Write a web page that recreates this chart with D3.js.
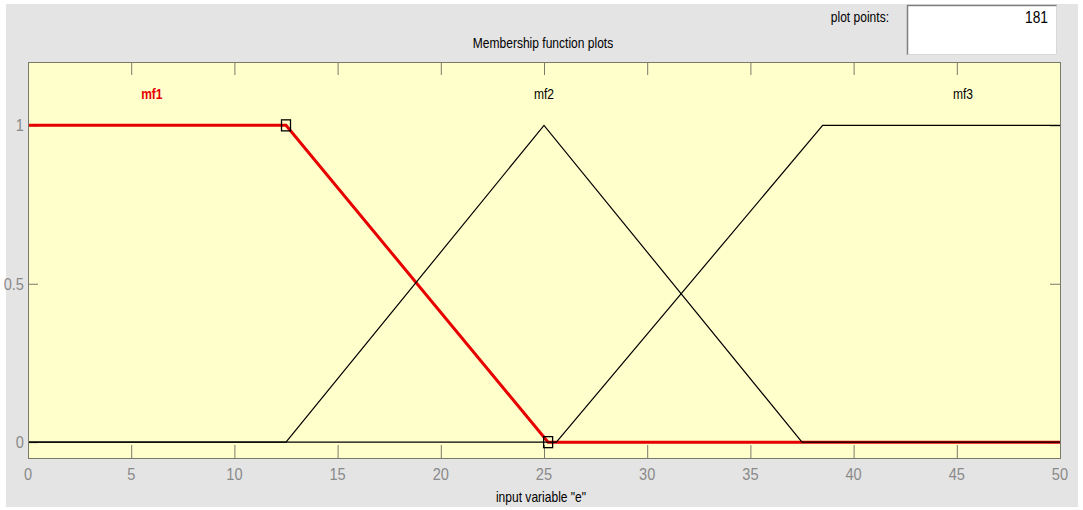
<!DOCTYPE html>
<html>
<head>
<meta charset="utf-8">
<script src="https://cdn.jsdelivr.net/npm/d3@7"></script>
<style>
  html, body { margin: 0; padding: 0; background: #ffffff; }
  svg { display: block; }
  text { font-family: "Liberation Sans", Arial, sans-serif; }
</style>
</head>
<body>
<svg id="chart" width="1083" height="510"></svg>
<script>
// Input variable "e", universe of discourse [0, 50]
const xTicks = [0, 5, 10, 15, 20, 25, 30, 35, 40, 45, 50];
const yTicks = [0, 0.5, 1];
const yTickLabels = ["0", "0.5", "1"];

// Membership functions (breakpoints and degrees)
const mfNames = ["mf1", "mf2", "mf3"];
const mf1X = [0, 12.5, 25.2, 50];
const mf1Y = [1, 1, 0, 0];
const mf2X = [0, 12.5, 25, 37.5, 50];
const mf2Y = [0, 0, 1, 0, 0];
const mf3X = [0, 25.6, 38.5, 50];
const mf3Y = [0, 0, 1, 1];

const plotPoints = 181;
const chartTitle = "Membership function plots";
const xLabel = 'input variable "e"';

// ---- layout ----
const plot = { left: 28, right: 1060, top: 62, bottom: 458 };
const labelAt = [6.0, 25, 45.3];   // x positions of the mf name labels
const labelY = 1.1;
const condense = 0.86;             // horizontal squeeze for the narrow UI font

const svg = d3.select("#chart");

// condensed text helper: positioned by transform so the squeeze keeps the anchor
function label(sel, px, py, anchor, size) {
  return sel
    .attr("transform", (d, i) => {
      const X = typeof px === "function" ? px(d, i) : px;
      const Y = typeof py === "function" ? py(d, i) : py;
      return `translate(${X},${Y}) scale(${condense},1)`;
    })
    .attr("text-anchor", anchor)
    .attr("dominant-baseline", "central")
    .attr("font-size", size);
}

// window panel
svg.append("rect")
  .attr("x", 6).attr("y", 4).attr("width", 1072).attr("height", 503)
  .attr("fill", "#e4e4e4");

const x = d3.scaleLinear().domain([0, 50]).range([plot.left, plot.right]);
const y = d3.scaleLinear().domain([-0.05, 1.2]).range([plot.bottom, plot.top]);

// plot area
svg.append("rect")
  .attr("x", plot.left).attr("y", plot.top)
  .attr("width", plot.right - plot.left).attr("height", plot.bottom - plot.top)
  .attr("fill", "#ffffcc");

const frameColor = "#7a7a6a";
const tickLen = 13;

// x ticks, bottom (pointing up) and top (pointing down)
const g = svg.append("g");
g.selectAll(".xb").data(xTicks).enter().append("line")
  .attr("x1", d => x(d) + 0.5).attr("x2", d => x(d) + 0.5)
  .attr("y1", plot.bottom).attr("y2", plot.bottom - tickLen)
  .attr("stroke", frameColor).attr("stroke-width", 1);
g.selectAll(".xt").data(xTicks).enter().append("line")
  .attr("x1", d => x(d) + 0.5).attr("x2", d => x(d) + 0.5)
  .attr("y1", plot.top).attr("y2", plot.top + tickLen)
  .attr("stroke", frameColor).attr("stroke-width", 1);
// y ticks, left and right
g.selectAll(".yl").data(yTicks).enter().append("line")
  .attr("x1", plot.left).attr("x2", plot.left + 10)
  .attr("y1", d => y(d) + 0.5).attr("y2", d => y(d) + 0.5)
  .attr("stroke", frameColor).attr("stroke-width", 1);
g.selectAll(".yr").data(yTicks).enter().append("line")
  .attr("x1", plot.right).attr("x2", plot.right - 10)
  .attr("y1", d => y(d) + 0.5).attr("y2", d => y(d) + 0.5)
  .attr("stroke", frameColor).attr("stroke-width", 1);

// tick labels
label(svg.selectAll(".xl").data(xTicks).enter().append("text"),
      d => x(d), 474, "middle", 17)
  .attr("fill", "#8a8a8a")
  .text(d => d);
label(svg.selectAll(".ylab").data(yTicks).enter().append("text"),
      24, d => y(d), "end", 17)
  .attr("fill", "#8a8a8a")
  .text((d, i) => yTickLabels[i]);

// membership curves
svg.append("clipPath").attr("id", "plotclip").append("rect")
  .attr("x", plot.left).attr("y", plot.top)
  .attr("width", plot.right - plot.left).attr("height", plot.bottom - plot.top);

const line = d3.line().x(d => x(d[0])).y(d => y(d[1]));
const curves = [
  { xs: mf1X, ys: mf1Y, color: "#e60000", width: 3 },
  { xs: mf2X, ys: mf2Y, color: "#000000", width: 1.2 },
  { xs: mf3X, ys: mf3Y, color: "#000000", width: 1.2 }
];
const cg = svg.append("g").attr("clip-path", "url(#plotclip)");
curves.forEach(c => {
  cg.append("path")
    .datum(c.xs.map((v, i) => [v, c.ys[i]]))
    .attr("d", line)
    .attr("fill", "none")
    .attr("stroke", c.color)
    .attr("stroke-width", c.width)
    .attr("stroke-linejoin", "miter");
});

// handles on the selected function's sloping edge
const handles = [[mf1X[1], mf1Y[1]], [mf1X[2], mf1Y[2]]];
svg.selectAll(".handle").data(handles).enter().append("rect")
  .attr("x", d => x(d[0]) - 4.5).attr("y", d => y(d[1]) - 5.5)
  .attr("width", 9).attr("height", 11)
  .attr("fill", "none").attr("stroke", "#000").attr("stroke-width", 1.3);

// plot frame
svg.append("rect")
  .attr("x", plot.left + 0.5).attr("y", plot.top + 0.5)
  .attr("width", plot.right - plot.left).attr("height", plot.bottom - plot.top)
  .attr("fill", "none").attr("stroke", frameColor).attr("stroke-width", 1);

// mf names
label(svg.selectAll(".mfname").data(mfNames).enter().append("text"),
      (d, i) => x(labelAt[i]), y(labelY), "middle", 14)
  .attr("font-weight", (d, i) => i === 0 ? "bold" : "normal")
  .attr("fill", (d, i) => i === 0 ? "#e60000" : "#000")
  .text(d => d);

// title and axis label
label(svg.append("text"), 543, 43, "middle", 14)
  .attr("fill", "#000")
  .text(chartTitle);
label(svg.append("text"), 541, 497, "middle", 14)
  .attr("fill", "#000")
  .text(xLabel);

// plot points field
label(svg.append("text"), 889, 17, "end", 14)
  .attr("fill", "#000")
  .text("plot points:");
svg.append("rect")
  .attr("x", 907).attr("y", 5).attr("width", 150).attr("height", 50)
  .attr("fill", "#ffffff");
svg.append("path")
  .attr("d", "M907.5,55 V5.5 H1057")
  .attr("fill", "none").attr("stroke", "#808080").attr("stroke-width", 1.5);
svg.append("path")
  .attr("d", "M907.5,54.5 H1056.5 V5.5")
  .attr("fill", "none").attr("stroke", "#d8d8d8").attr("stroke-width", 1);
label(svg.append("text"), 1048, 17, "end", 16)
  .attr("fill", "#000")
  .text(plotPoints);
</script>
</body>
</html>
